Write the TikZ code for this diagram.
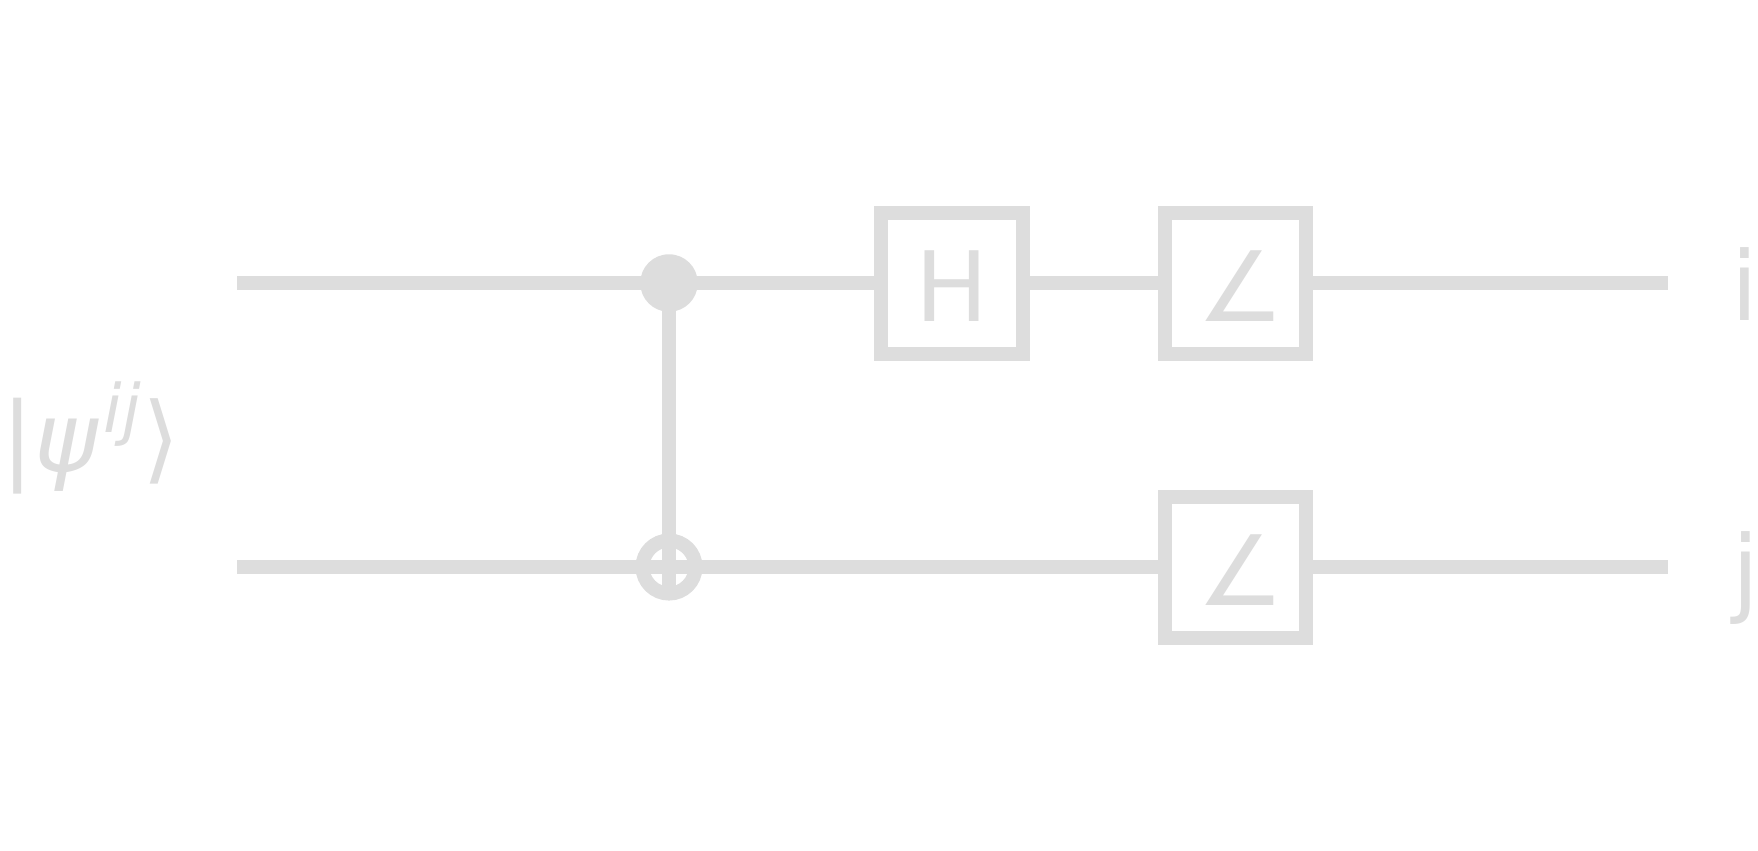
\documentclass[tikz,border=0pt]{standalone}
\usepackage{fontspec}
\setmainfont{DejaVu Sans}
\usetikzlibrary{positioning, backgrounds}
\definecolor{gatecolor}{HTML}{DDDDDD}
\tikzset{
    gate/.style={draw=gatecolor, line width=0.14cm, fill=white, inner sep=0pt, minimum width=1.41cm, minimum height=1.41cm, text=gatecolor, text height=21.5pt, text depth=0pt, font=\fontsize{27.6}{32}\selectfont},
    wire/.style={gatecolor, line width=0.14cm},
    ctrl/.style={circle, fill=gatecolor, inner sep=0pt, minimum size=0.575cm},
    targ/.style={circle, draw=gatecolor, line width=0.14cm, inner sep=0pt, minimum size=0.53cm},
    qlabel/.style={inner sep=0pt, text=gatecolor, font=\fontsize{27.3}{32}\selectfont}
}
\begin{document}
\begin{tikzpicture}[x=0.01cm, y=-0.01cm]
        \useasboundingbox (0,0) rectangle (1758,850);
        \node [qlabel, anchor=base west] (state) at (1,471) {|\textit{ψ}\kern1.3pt\raisebox{11pt}{\fontsize{19}{22}\selectfont\textit{ij}}\kern0.5pt⟩};
        \coordinate (starti) at (237,283);
        \coordinate (startj) at (237,567);
        \coordinate (endi) at (1668,283);
        \coordinate (endj) at (1668,567);
        \node [ctrl] (cnotc) at (669,283) {};
        \node [targ] (cnott) at (669,567) {};
        \node [gate] (hadamard) at (952,283.5) {H};
        \node [gate] (anglei) at (1235.5,283.5) {\kern3.2pt∠};
        \node [gate] (anglej) at (1235.5,567.5) {\kern3.2pt∠};
        \node [qlabel, anchor=base east] (labeli) at (1759,320) {i};
        \node [qlabel, anchor=base east] (labelj) at (1760,604) {j};
        \begin{scope}[on background layer]
            \draw [wire] (starti) -- (cnotc.center) -- (cnotc.center -| hadamard.west);
            \draw [wire] (cnotc.center -| hadamard.east) -- (cnotc.center -| anglei.west);
            \draw [wire] (cnotc.center -| anglei.east) -- (endi);
            \draw [wire] (startj) -- (cnott.center) -- (cnott.center -| anglej.west);
            \draw [wire] (cnott.center -| anglej.east) -- (endj);
            \draw [wire, shorten >=1.5pt] (cnotc.center) -- (cnott.south);
        \end{scope}
    \end{tikzpicture}
\end{document}
